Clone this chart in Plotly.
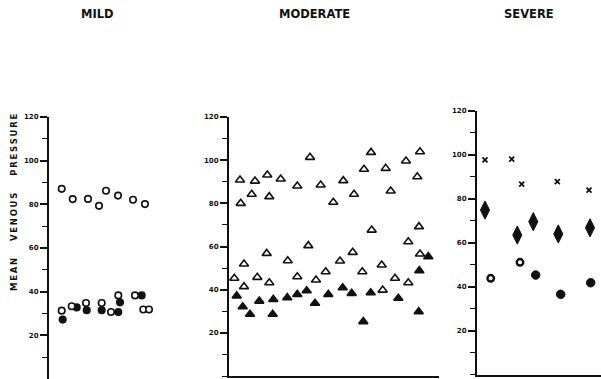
import plotly.graph_objects as go

# ---------------- data ----------------
# MILD panel: horizontal case positions (arbitrary units) and pressures
mild_upper_x = [12.7, 23.7, 39, 50, 57, 69, 84, 96]
mild_upper_y = [87.1, 82.4, 82.5, 79.3, 86.2, 84.0, 82.1, 80.1]
mild_low_open_x = [12.7, 22.7, 37, 52.7, 62, 69.3, 86, 94.3, 100]
mild_low_open_y = [31.3, 33.3, 34.8, 34.8, 30.7, 38.3, 38.3, 31.8, 31.8]
mild_low_fill_x = [13.7, 27.7, 37.7, 52.7, 69.3, 71, 92.7]
mild_low_fill_y = [27.2, 32.8, 31.5, 31.5, 30.7, 35.1, 38.3]

# MODERATE panel
mod_upper_x = [11, 11.7, 22.7, 26, 38.3, 40.3, 51.7, 68.3, 81, 91.7,
               104.3, 114.3, 125, 135, 142, 156.7, 161.7, 177, 188.3, 191]
mod_upper_y = [90.8, 80.0, 84.2, 90.3, 93.1, 83.1, 91.3, 88.0, 101.3, 88.5,
               80.5, 90.5, 84.2, 95.8, 103.6, 96.2, 85.7, 99.6, 92.3, 103.9]
mod_low_open_x = [5.3, 15, 15, 28.3, 37.7, 40.3, 58.7, 68.3, 79.3, 87, 96.7,
                  111, 123.7, 133.3, 142.7, 152.7, 153.7, 166, 179.3, 179.3, 190, 191]
mod_low_open_y = [45.3, 51.9, 41.4, 45.7, 56.8, 43.2, 53.4, 46.0, 60.4, 44.5, 48.3,
                  53.3, 57.3, 48.3, 67.6, 51.4, 39.8, 45.3, 43.2, 62.2, 69.2, 56.5]
mod_low_fill_x = [7.7, 13.7, 21, 30.3, 44.3, 43.7, 58.3, 68.3, 77.7, 86, 99.3,
                  113.7, 122.7, 134.3, 141.7, 169.3, 190.3, 189.7, 199.3]
mod_low_fill_y = [37.1, 32.1, 28.6, 34.7, 35.5, 28.6, 36.3, 37.8, 39.5, 33.7, 37.8,
                  40.9, 38.3, 25.2, 38.6, 36.0, 48.8, 29.8, 55.3]

# SEVERE panel
sev_x_cross = [8, 34.7, 44.7, 80.3, 112]
sev_y_cross = [97.7, 98.1, 86.7, 87.8, 84.0]
sev_x_diam = [8, 40.3, 56.3, 81.3, 113]
sev_y_diam = [74.9, 63.5, 69.6, 64.0, 66.8]
sev_x_ring = [13.7, 43]
sev_y_ring = [43.8, 51.1]
sev_x_dot = [58.7, 83.7, 113.7]
sev_y_dot = [45.3, 36.5, 41.8]

panel_titles = ["MILD", "MODERATE", "SEVERE"]
y_ticks = [20, 40, 60, 80, 100, 120]
y_title_words = ["MEAN", "VENOUS", "PRESSURE"]

# ---------------- figure ----------------
W, H = 601, 379
fig = go.Figure()
ink = "#111111"

def add(x, y, xa, ya, symbol, size, filled=False, lw=1.6):
    fig.add_trace(go.Scatter(
        x=x, y=y, mode="markers", xaxis=xa, yaxis=ya, showlegend=False,
        cliponaxis=False, opacity=1,
        marker=dict(symbol=symbol, size=size, opacity=1,
                    color=ink if filled else "white",
                    line=dict(color=ink, width=lw)),
        hoverinfo="skip"))

# mild
add(mild_upper_x, mild_upper_y, "x", "y", "circle", 6.5)
add(mild_low_fill_x, mild_low_fill_y, "x", "y", "circle", 6.5, filled=True)
add(mild_low_open_x, mild_low_open_y, "x", "y", "circle", 6.5)
# moderate
add(mod_upper_x, mod_upper_y, "x2", "y2", "triangle-up", 8)
add(mod_low_open_x, mod_low_open_y, "x2", "y2", "triangle-up", 8)
add(mod_low_fill_x, mod_low_fill_y, "x2", "y2", "triangle-up", 8, filled=True)
# severe
add(sev_x_cross, sev_y_cross, "x3", "y3", "x-thin", 5, lw=1.8)
add(sev_x_diam, sev_y_diam, "x3", "y3", "diamond-tall", 13, filled=True, lw=1)
add(sev_x_ring, sev_y_ring, "x3", "y3", "circle", 6.5, lw=2.4)
add(sev_x_dot, sev_y_dot, "x3", "y3", "circle", 8.5, filled=True, lw=1)

def px_x(p):
    return p / W

def px_y(p):
    return 1 - p / H

def yaxis(bottom_px, top_px, anchor, rng):
    return dict(
        domain=[max(0, px_y(bottom_px)), px_y(top_px)], range=rng,
        anchor=anchor, showgrid=False, zeroline=False, automargin=False,
        showline=True, linecolor=ink, linewidth=2,
        tickmode="array", tickvals=y_ticks, ticktext=[str(t) for t in y_ticks],
        ticks="outside", ticklen=7, tickwidth=1.5, tickcolor=ink,
        minor=dict(dtick=10, tick0=0, ticks="outside", ticklen=5,
                   tickwidth=1.2, tickcolor=ink),
        tickfont=dict(family="DejaVu Sans", size=7, color=ink, weight="bold"),
    )

def xaxis(left_px, right_px, anchor, rng, line):
    return dict(
        domain=[px_x(left_px), px_x(right_px)], range=rng, anchor=anchor,
        showgrid=False, zeroline=False, showticklabels=False, ticks="",
        automargin=False,
        showline=line, linecolor=ink, linewidth=1.8,
    )

fig.update_layout(
    width=W, height=H, margin=dict(l=0, r=0, t=0, b=0, pad=0),
    paper_bgcolor="white", plot_bgcolor="rgba(0,0,0,0)",
    xaxis=xaxis(49, 175, "y", [0, 126], False),
    yaxis=yaxis(379.5, 117, "x", [0, 120]),
    xaxis2=xaxis(229, 439, "y2", [0, 210], True),
    yaxis2=yaxis(376, 117, "x2", [0, 120]),
    xaxis3=xaxis(477, 601, "y3", [0, 124], True),
    yaxis3=yaxis(374.5, 111, "x3", [0, 120]),
)

title_pos = [(97, 14), (314, 14), (529, 14)]
for t, (xp, yp) in zip(panel_titles, title_pos):
    fig.add_annotation(text="<b>" + t + "</b>", xref="paper", yref="paper",
                       x=px_x(xp), y=px_y(yp), showarrow=False,
                       xanchor="center", yanchor="middle",
                       font=dict(family="DejaVu Sans", size=11.5, color=ink))

y_title = "\u2003\u2003".join("\u2009".join(w) for w in y_title_words)
fig.add_annotation(text="<b>" + y_title + "</b>", xref="paper", yref="paper",
                   x=px_x(14), y=px_y(203), showarrow=False, textangle=-90,
                   xanchor="center", yanchor="middle",
                   font=dict(family="DejaVu Sans", size=8.5, color=ink))

fig.write_html(
    "out.html",
    config={"displayModeBar": False},
    post_script="document.body.style.margin='0';document.body.style.overflow='hidden';",
)
